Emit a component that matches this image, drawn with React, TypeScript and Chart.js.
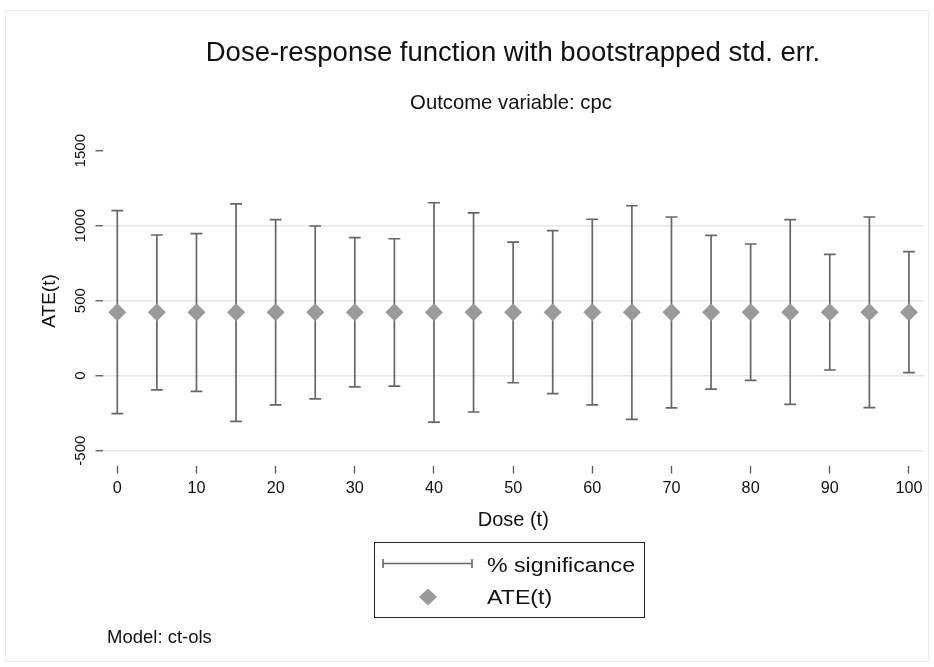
import React, { useEffect, useRef } from "react";
import { Chart, registerables } from "chart.js";

Chart.register(...registerables);

// ---------- data ----------
const doses = [0, 5, 10, 15, 20, 25, 30, 35, 40, 45, 50, 55, 60, 65, 70, 75, 80, 85, 90, 95, 100];
const ateValues = [423, 423, 423, 423, 423, 423, 423, 423, 423, 423, 423, 423, 423, 423, 423, 423, 423, 423, 423, 423, 423];
const upperValues = [1100, 938, 947, 1145, 1040, 998, 920, 913, 1153, 1085, 890, 967, 1043, 1133, 1058, 936, 878, 1040, 809, 1058, 827];
const lowerValues = [-253, -95, -104, -304, -195, -155, -75, -69, -309, -242, -47, -120, -195, -291, -215, -89, -31, -191, 38, -213, 20];
const xTickValues = [0, 10, 20, 30, 40, 50, 60, 70, 80, 90, 100];
const yTickValues = [-500, 0, 500, 1000, 1500];

const titleText = "Dose-response function with bootstrapped std. err.";
const subtitleText = "Outcome variable: cpc";
const xAxisTitle = "Dose (t)";
const yAxisTitle = "ATE(t)";
const legendLabels = ["% significance", "ATE(t)"];
const noteText = "Model: ct-ols";

// ---------- style ----------
const FONT = "'Liberation Sans', Arial, Helvetica, sans-serif";
const TEXT = "#111111";
const BAR = "#666666";
const DIAMOND = "#9a9a9a";
const GRID = "#e6e6e6";
const TICK = "#555555";

function drawLabel(
  ctx: CanvasRenderingContext2D,
  text: string,
  x: number,
  y: number,
  size: number,
  align: CanvasTextAlign,
  rotate = 0,
  sx = 1
) {
  ctx.save();
  ctx.translate(x, y);
  if (rotate) ctx.rotate(rotate);
  if (sx !== 1) ctx.scale(sx, 1);
  ctx.font = `${size}px ${FONT}`;
  ctx.fillStyle = TEXT;
  ctx.textAlign = align;
  ctx.textBaseline = "alphabetic";
  ctx.fillText(text, 0, 0);
  ctx.restore();
}

const decorPlugin = {
  id: "decor",
  beforeDraw(chart: any) {
    const ctx = chart.ctx as CanvasRenderingContext2D;
    ctx.save();
    ctx.fillStyle = "#ffffff";
    ctx.fillRect(0, 0, chart.width, chart.height);
    ctx.strokeStyle = "#ececec";
    ctx.lineWidth = 1;
    ctx.strokeRect(5.5, 10.5, 923, 651);
    ctx.restore();
  },
  afterDraw(chart: any) {
    const ctx = chart.ctx as CanvasRenderingContext2D;
    const area = chart.chartArea;
    const ys = chart.scales.y;
    const cx = (area.left + area.right) / 2;
    const cy = (area.top + area.bottom) / 2;

    drawLabel(ctx, titleText, 513, 60.5, 27.5, "center");
    drawLabel(ctx, subtitleText, 511, 109, 20.3, "center");
    drawLabel(ctx, xAxisTitle, cx, 526, 20, "center");
    drawLabel(ctx, yAxisTitle, 54.5, cy, 19, "center", -Math.PI / 2);

    for (const v of yTickValues) {
      const py = ys.getPixelForValue(v);
      drawLabel(ctx, String(v), 85, py, 15, "center", -Math.PI / 2);
    }

    // legend box
    ctx.save();
    ctx.fillStyle = "#ffffff";
    ctx.fillRect(374.5, 542.5, 270, 75);
    ctx.strokeStyle = "#222222";
    ctx.lineWidth = 1;
    ctx.strokeRect(374.5, 542.5, 270, 75);

    // error bar symbol
    ctx.strokeStyle = BAR;
    ctx.lineWidth = 1.6;
    ctx.beginPath();
    ctx.moveTo(383, 563.5);
    ctx.lineTo(472, 563.5);
    ctx.moveTo(383, 559);
    ctx.lineTo(383, 568);
    ctx.moveTo(472, 559);
    ctx.lineTo(472, 568);
    ctx.stroke();

    // diamond symbol
    ctx.fillStyle = DIAMOND;
    ctx.beginPath();
    ctx.moveTo(428, 588.5);
    ctx.lineTo(437, 597);
    ctx.lineTo(428, 605.5);
    ctx.lineTo(419, 597);
    ctx.closePath();
    ctx.fill();
    ctx.restore();

    drawLabel(ctx, legendLabels[0], 487, 571.5, 20.5, "left", 0, 1.13);
    drawLabel(ctx, legendLabels[1], 487, 604, 20.5, "left", 0, 1.13);

    drawLabel(ctx, noteText, 107, 642.5, 18.5, "left");
  },
};

export default function App() {
  const canvasRef = useRef<HTMLCanvasElement | null>(null);

  useEffect(() => {
    if (!canvasRef.current) return;
    const diamondData = doses.map((d, i) => ({ x: d, y: ateValues[i] }));
    const stemData = doses.map((d, i) => ({ x: d, y: [lowerValues[i], upperValues[i]] }));
    const capData = [
      ...doses.map((d, i) => ({ x: d, y: upperValues[i] })),
      ...doses.map((d, i) => ({ x: d, y: lowerValues[i] })),
    ];

    const chart = new Chart(canvasRef.current, {
      type: "scatter",
      data: {
        datasets: [
          {
            type: "scatter",
            label: legendLabels[1],
            data: diamondData,
            pointStyle: "rectRot",
            pointRadius: 9,
            pointBackgroundColor: DIAMOND,
            pointBorderWidth: 0,
            pointBorderColor: DIAMOND,
          } as any,
          {
            type: "scatter",
            label: "caps",
            data: capData,
            pointStyle: "line",
            pointRadius: 5.9,
            pointBorderColor: BAR,
            pointBorderWidth: 1.7,
          } as any,
          {
            type: "bar",
            label: legendLabels[0],
            data: stemData,
            backgroundColor: BAR,
            borderWidth: 0,
            barThickness: 1.7,
            inflateAmount: 0,
          } as any,
        ],
      },
      options: {
        responsive: true,
        maintainAspectRatio: false,
        animation: false,
        events: [],
        layout: { padding: { left: 0, right: 10, top: 136.5, bottom: 161.5 } },
        plugins: {
          legend: { display: false },
          title: { display: false },
          tooltip: { enabled: false },
        },
        scales: {
          x: {
            type: "linear",
            offset: false,
            min: -1.87,
            max: 101.9,
            afterBuildTicks: (s: any) => {
              s.ticks = xTickValues.map((v) => ({ value: v }));
            },
            afterFit: (s: any) => {
              s.height = 40;
            },
            ticks: {
              autoSkip: false,
              maxRotation: 0,
              minRotation: 0,
              padding: 5,
              color: TEXT,
              font: { family: FONT, size: 16.2 },
              callback: (v: any) => String(v),
            },
            grid: {
              offset: false,
              drawOnChartArea: false,
              tickLength: 8,
              tickColor: TICK,
              tickWidth: 1.3,
            },
            border: { display: false },
          },
          y: {
            type: "linear",
            min: -598.7,
            max: 1594.7,
            afterBuildTicks: (s: any) => {
              s.ticks = yTickValues.map((v) => ({ value: v }));
            },
            afterFit: (s: any) => {
              s.width = 102.5;
            },
            ticks: { display: false },
            grid: {
              color: (c: any) => (c.tick && c.tick.value === 1500 ? "rgba(0,0,0,0)" : GRID),
              lineWidth: 1.5,
              tickLength: 7,
              tickColor: TICK,
              tickWidth: 1.3,
            },
            border: { display: false },
          },
        },
      } as any,
      plugins: [decorPlugin as any],
    });

    return () => chart.destroy();
  }, []);

  return (
    <div style={{ position: "absolute", left: 0, top: 0, width: 934, height: 667 }}>
      <canvas ref={canvasRef} />
    </div>
  );
}
